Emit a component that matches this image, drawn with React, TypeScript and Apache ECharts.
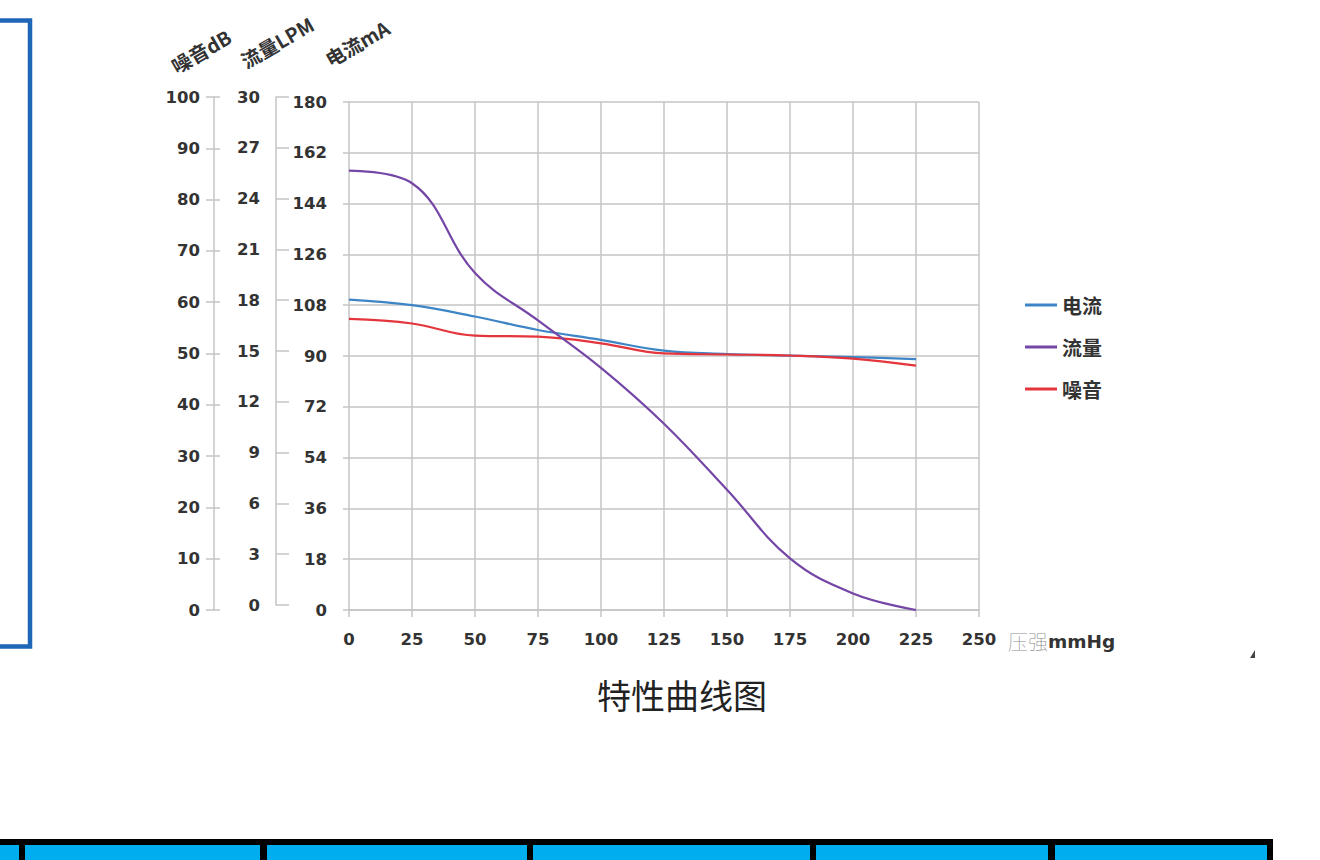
import React, { useEffect, useRef } from "react";
import * as echarts from "echarts";

const pressure = [0, 25, 50, 75, 100, 125, 150, 175, 200, 225];
const currentMA = [110, 108, 104, 99.2, 95.7, 91.9, 90.7, 90.1, 89.6, 88.9];
const noiseDB = [57.3, 56.4, 54.0, 53.8, 52.5, 50.5, 50.3, 50.1, 49.5, 48.1];
const flowLPM = [25.95, 25.2, 19.9, 17.1, 14.3, 11.0, 7.1, 3.05, 0.98, 0];

const seriesNames = ["电流", "流量", "噪音"];
const axisNames = ["噪音dB", "流量LPM", "电流mA"];
const xAxisNameCn = "压强";
const xAxisNameUnit = "mmHg";
const chartTitle = "特性曲线图";
const tableCells: [number, number][] = [
  [0, 19],
  [25, 260],
  [267, 527],
  [533, 810],
  [816, 1048],
  [1055, 1267],
];

const GRID = "#c4c4c4";
const LABEL = "#333333";
const NUM_FONT = "DejaVu Sans";
const CJK_FONT = "Noto Sans CJK SC";

function pairs(xs: number[], ys: number[]) {
  return xs.map((x, i) => [x, ys[i]]);
}

export default function App() {
  const ref = useRef<HTMLDivElement>(null);
  useEffect(() => {
    document.body.style.margin = "0";
    const chart = echarts.init(ref.current!, null, { renderer: "svg" });
    const numLabel = {
      color: LABEL,
      fontFamily: NUM_FONT,
      fontWeight: "bold" as const,
      fontSize: 16.5,
    };
    const axisNameText = (i: number, x: number, y: number) => ({
      type: "text",
      x,
      y,
      rotation: 0.52,
      style: {
        text: axisNames[i],
        fill: LABEL,
        font: `bold 19.5px "${CJK_FONT}"`,
        align: "center",
        verticalAlign: "middle",
      },
    });
    chart.setOption({
      animation: false,
      backgroundColor: "#ffffff",
      grid: [
        { left: 349, top: 102, width: 630, height: 508 },
        { left: 214, top: 97, width: 10, height: 513 },
        { left: 276, top: 97, width: 10, height: 508 },
      ],
      xAxis: [
        {
          gridIndex: 0,
          type: "value",
          min: 0,
          max: 250,
          interval: 25,
          axisLine: { show: true, lineStyle: { color: GRID, width: 1.5 } },
          axisTick: { show: true, length: 7, lineStyle: { color: GRID, width: 1.5 } },
          splitLine: { show: true, lineStyle: { color: GRID, width: 1.5 } },
          axisLabel: { ...numLabel, margin: 21 },
        },
        { gridIndex: 1, type: "value", show: false },
        { gridIndex: 2, type: "value", show: false },
      ],
      yAxis: [
        {
          gridIndex: 0,
          type: "value",
          min: 0,
          max: 180,
          interval: 18,
          axisLine: { show: false },
          axisTick: { show: true, length: 6, lineStyle: { color: GRID, width: 1.5 } },
          splitLine: { show: true, lineStyle: { color: GRID, width: 1.5 } },
          axisLabel: { ...numLabel, margin: 22 },
        },
        { gridIndex: 0, type: "value", min: 0, max: 30, show: false },
        { gridIndex: 0, type: "value", min: 0, max: 100, show: false },
        {
          gridIndex: 1,
          type: "value",
          min: 0,
          max: 100,
          interval: 10,
          position: "left",
          axisLine: { show: true, lineStyle: { color: GRID, width: 1.5 } },
          axisTick: { show: true, length: 8, lineStyle: { color: GRID, width: 1.5 } },
          splitLine: { show: false },
          axisLabel: { ...numLabel, margin: 14 },
        },
        {
          gridIndex: 1,
          type: "value",
          min: 0,
          max: 100,
          interval: 10,
          position: "left",
          axisLine: { show: false },
          axisTick: { show: true, inside: true, length: 6, lineStyle: { color: GRID, width: 1.5 } },
          splitLine: { show: false },
          axisLabel: { show: false },
        },
        {
          gridIndex: 2,
          type: "value",
          min: 0,
          max: 30,
          interval: 3,
          position: "left",
          axisLine: { show: true, lineStyle: { color: GRID, width: 1.5 } },
          axisTick: { show: true, inside: true, length: 13, lineStyle: { color: GRID, width: 1.5 } },
          splitLine: { show: false },
          axisLabel: { ...numLabel, margin: 16 },
        },
      ],
      legend: {
        orient: "vertical",
        left: 1020,
        top: 289,
        icon: "rect",
        itemWidth: 32,
        itemHeight: 3,
        itemGap: 20,
        data: seriesNames,
        textStyle: {
          color: LABEL,
          fontFamily: CJK_FONT,
          fontWeight: "bold",
          fontSize: 20,
          lineHeight: 22,
        },
      },
      series: [
        {
          name: seriesNames[0],
          type: "line",
          xAxisIndex: 0,
          yAxisIndex: 0,
          smooth: 0.4,
          showSymbol: false,
          lineStyle: { color: "#3d85c6", width: 2.2 },
          itemStyle: { color: "#3d85c6" },
          data: pairs(pressure, currentMA),
          z: 3,
        },
        {
          name: seriesNames[1],
          type: "line",
          xAxisIndex: 0,
          yAxisIndex: 1,
          smooth: 0.4,
          showSymbol: false,
          lineStyle: { color: "#7446a6", width: 2.2 },
          itemStyle: { color: "#7446a6" },
          data: pairs(pressure, flowLPM),
          z: 4,
        },
        {
          name: seriesNames[2],
          type: "line",
          xAxisIndex: 0,
          yAxisIndex: 2,
          smooth: 0.4,
          showSymbol: false,
          lineStyle: { color: "#e5353c", width: 2.2 },
          itemStyle: { color: "#e5353c" },
          data: pairs(pressure, noiseDB),
          z: 3,
        },
      ],
      graphic: [
        {
          type: "rect",
          shape: { x: -10, y: 20.5, width: 40, height: 626 },
          style: { fill: "none", stroke: "#1f66b8", lineWidth: 4.5 },
        },
        axisNameText(0, 201, 51),
        axisNameText(1, 277, 42),
        axisNameText(2, 357, 43),
        {
          type: "text",
          x: 1008,
          y: 641,
          style: {
            text: `{cn|${xAxisNameCn}}{en|${xAxisNameUnit}}`,
            align: "left",
            verticalAlign: "middle",
            rich: {
              cn: { fill: "#8a8a8a", fontFamily: CJK_FONT, fontSize: 20, fontWeight: "lighter" },
              en: { fill: LABEL, fontFamily: NUM_FONT, fontSize: 18.5, fontWeight: "bold" },
            },
          },
        },
        {
          type: "text",
          x: 682,
          y: 694,
          style: {
            text: chartTitle,
            fill: "#222222",
            font: `normal 34px "${CJK_FONT}"`,
            align: "center",
            verticalAlign: "middle",
          },
        },
        {
          type: "polygon",
          shape: { points: [[1250, 658], [1255, 650], [1255, 658]] },
          style: { fill: "#444444" },
        },
        {
          type: "rect",
          shape: { x: 0, y: 839, width: 1273, height: 30 },
          style: { fill: "#000000" },
        },
        ...tableCells.map(([a, b]) => ({
          type: "rect",
          shape: { x: a, y: 845, width: b - a, height: 20 },
          style: { fill: "#00aeef" },
        })),
      ],
    });
    return () => chart.dispose();
  }, []);
  return (
    <div
      ref={ref}
      style={{ position: "absolute", left: 0, top: 0, width: 1320, height: 860 }}
    />
  );
}
